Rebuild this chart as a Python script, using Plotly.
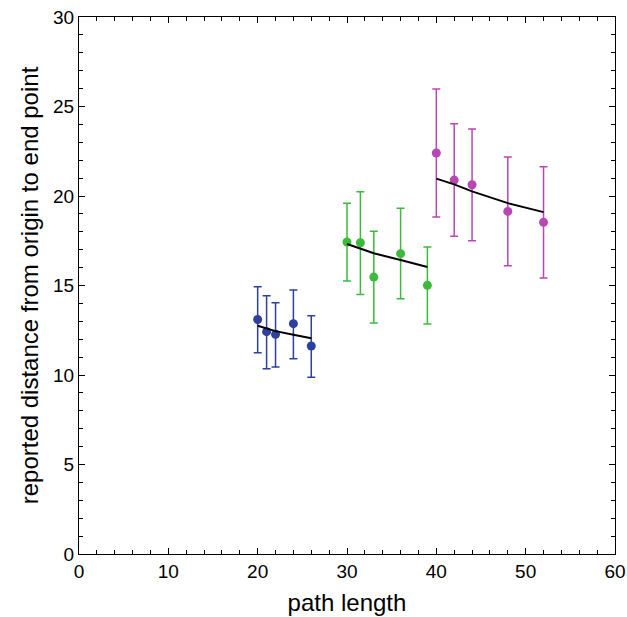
import plotly.graph_objects as go

# Blue group
blue_x = [20, 21, 22, 24, 26]
blue_y = [13.1, 12.42, 12.27, 12.87, 11.62]
blue_hi = [14.93, 14.43, 14.04, 14.75, 13.31]
blue_lo = [11.25, 10.35, 10.45, 10.91, 9.87]
blue_fit = [12.75, 12.6, 12.45, 12.25, 12.05]

# Green group
green_x = [30, 31.5, 33, 36, 39]
green_y = [17.43, 17.39, 15.47, 16.78, 15.01]
green_hi = [19.6, 20.24, 18.03, 19.31, 17.15]
green_lo = [15.25, 14.5, 12.9, 14.26, 12.85]
green_fit = [17.32, 17.05, 16.8, 16.42, 16.03]

# Magenta group
mag_x = [40, 42, 44, 48, 52]
mag_y = [22.4, 20.89, 20.63, 19.14, 18.53]
mag_hi = [25.98, 24.04, 23.74, 22.18, 21.64]
mag_lo = [18.83, 17.75, 17.5, 16.11, 15.42]
mag_fit = [20.97, 20.65, 20.26, 19.6, 19.1]

groups = [
    (blue_x, blue_y, blue_hi, blue_lo, blue_fit, "#2e409e"),
    (green_x, green_y, green_hi, green_lo, green_fit, "#3cba3c"),
    (mag_x, mag_y, mag_hi, mag_lo, mag_fit, "#b847b4"),
]

FONT = "Liberation Sans, Arial, sans-serif"

fig = go.Figure()
for xs, ys, hi, lo, fit, col in groups:
    fig.add_trace(go.Scatter(
        x=xs, y=ys, mode="markers",
        marker=dict(color=col, size=9),
        error_y=dict(type="data", symmetric=False,
                     array=[h - y for h, y in zip(hi, ys)],
                     arrayminus=[y - l for y, l in zip(ys, lo)],
                     color=col, thickness=1.5, width=4),
        showlegend=False,
    ))
    fig.add_trace(go.Scatter(
        x=xs, y=fit, mode="lines",
        line=dict(color="black", width=2),
        showlegend=False,
    ))

axis_common = dict(
    showgrid=False, zeroline=False, showline=True, linecolor="black", linewidth=1,
    mirror="allticks", ticks="inside", ticklen=6, tickcolor="black", tickwidth=1,
    tickfont=dict(family=FONT, size=19, color="black"),
    automargin=False,
)

fig.update_xaxes(range=[0, 60], dtick=10, tick0=0,
                 minor=dict(dtick=2, ticks="inside", ticklen=4, tickcolor="black"),
                 title=dict(text="path length", standoff=13,
                            font=dict(family=FONT, size=24, color="black")),
                 **axis_common)
fig.update_yaxes(range=[0, 30], dtick=5, tick0=0,
                 minor=dict(dtick=1, ticks="inside", ticklen=4, tickcolor="black"),
                 title=dict(text="reported distance from origin to end point", standoff=7,
                            font=dict(family=FONT, size=24, color="black")),
                 **axis_common)

fig.update_layout(
    width=627, height=617,
    margin=dict(l=79, r=12, t=17, b=63),
    plot_bgcolor="white", paper_bgcolor="white",
)

fig.write_html("out.html", config={"displayModeBar": False},
               post_script="document.body.style.margin='0';")
